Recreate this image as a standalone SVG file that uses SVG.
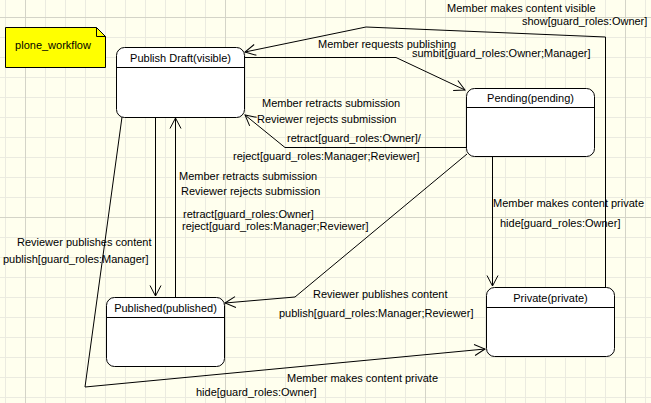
<svg xmlns="http://www.w3.org/2000/svg" width="651" height="403" viewBox="0 0 651 403">
<defs>
<pattern id="grid" patternUnits="userSpaceOnUse" x="5" y="17" width="20" height="20">
<path d="M0 0.5H20M0.5 0V20" stroke="#ebebe0" stroke-width="1" fill="none"/>
</pattern>
<marker id="arr" markerUnits="userSpaceOnUse" markerWidth="14" markerHeight="14" refX="12" refY="7" orient="auto" viewBox="0 0 14 14">
<path d="M1.5 1.5L12 7L1.5 12.5" fill="none" stroke="#000" stroke-width="1"/>
</marker>
<style>
text{font-family:"Liberation Sans",Arial,sans-serif;font-size:11px;fill:#000}
.box{fill:#fff;stroke:#000;stroke-width:1}
.div{stroke:#000;stroke-width:1}
.c{fill:none;stroke:#000;stroke-width:1}
.t{text-anchor:middle}
</style>
</defs>
<rect width="651" height="403" fill="#ffffee"/>
<rect width="651" height="403" fill="url(#grid)"/>
<g stroke="#d4d4c8" stroke-width="1">
<path d="M25.5 0V403M225.5 0V403M425.5 0V403M625.5 0V403M0 17.5H651M0 217.5H651"/>
</g>

<g id="note">
<path d="M5.5 27.5H96.5L105.5 36.5V67.5H5.5Z" fill="#ffff00" stroke="#000"/>
<path d="M96.5 27.5V36.5H105.5" fill="none" stroke="#000"/>
<text x="53" y="49" class="t">plone_workflow</text>
</g>

<g id="connectors">
<polyline class="c" points="244,57.5 396,57.5 465,90" marker-end="url(#arr)"/>
<polyline class="c" points="605.5,287 605.5,37 366,27 245,52" marker-end="url(#arr)"/>
<polyline class="c" points="466,147.5 285,147.5 245,115" marker-end="url(#arr)"/>
<polyline class="c" points="155.5,117 155.5,296" marker-end="url(#arr)"/>
<polyline class="c" points="175.5,297 175.5,118" marker-end="url(#arr)"/>
<polyline class="c" points="122,117 85,387 485,349" marker-end="url(#arr)"/>
<polyline class="c" points="467,154 295,297 225,303" marker-end="url(#arr)"/>
<polyline class="c" points="492.5,156 492.5,286" marker-end="url(#arr)"/>

<text x="318" y="48">Member requests publishing</text>
<text x="412" y="57">sumbit[guard_roles:Owner;Manager]</text>
<text x="447" y="12">Member makes content visible</text>
<text x="522" y="25">show[guard_roles:Owner]</text>
<text x="262" y="107">Member retracts submission</text>
<text x="257" y="123">Reviewer rejects submission</text>
<text x="287" y="142">retract[guard_roles:Owner]/</text>
<text x="233" y="160">reject[guard_roles:Manager;Reviewer]</text>
<text x="179" y="180">Member retracts submission</text>
<text x="181" y="195">Reviewer rejects submission</text>
<text x="183" y="218">retract[guard_roles:Owner]</text>
<text x="182" y="230">reject[guard_roles:Manager;Reviewer]</text>
<text x="17" y="246">Reviewer publishes content</text>
<text x="3" y="263">publish[guard_roles:Manager]</text>
<text x="313" y="298">Reviewer publishes content</text>
<text x="279" y="317">publish[guard_roles:Manager;Reviewer]</text>
<text x="493" y="207">Member makes content private</text>
<text x="500" y="227">hide[guard_roles:Owner]</text>
<text x="287" y="382">Member makes content private</text>
<text x="196" y="396">hide[guard_roles:Owner]</text>
</g>

<g id="draft">
<rect class="box" x="116.5" y="47.5" width="128" height="70" rx="8"/>
<line class="div" x1="116.5" y1="67.5" x2="244.5" y2="67.5"/>
<text x="180.5" y="62" class="t">Publish Draft(visible)</text>
</g>

<g id="pending">
<rect class="box" x="466.5" y="88.5" width="128" height="68" rx="8"/>
<line class="div" x1="466.5" y1="107.5" x2="594.5" y2="107.5"/>
<text x="530.5" y="102" class="t">Pending(pending)</text>
</g>

<g id="published">
<rect class="box" x="106.5" y="297.5" width="118" height="69" rx="8"/>
<line class="div" x1="106.5" y1="317.5" x2="224.5" y2="317.5"/>
<text x="165.5" y="312" class="t">Published(published)</text>
</g>

<g id="private">
<rect class="box" x="486.5" y="287.5" width="128" height="69" rx="8"/>
<line class="div" x1="486.5" y1="307.5" x2="614.5" y2="307.5"/>
<text x="550.5" y="302" class="t">Private(private)</text>
</g>
</svg>
